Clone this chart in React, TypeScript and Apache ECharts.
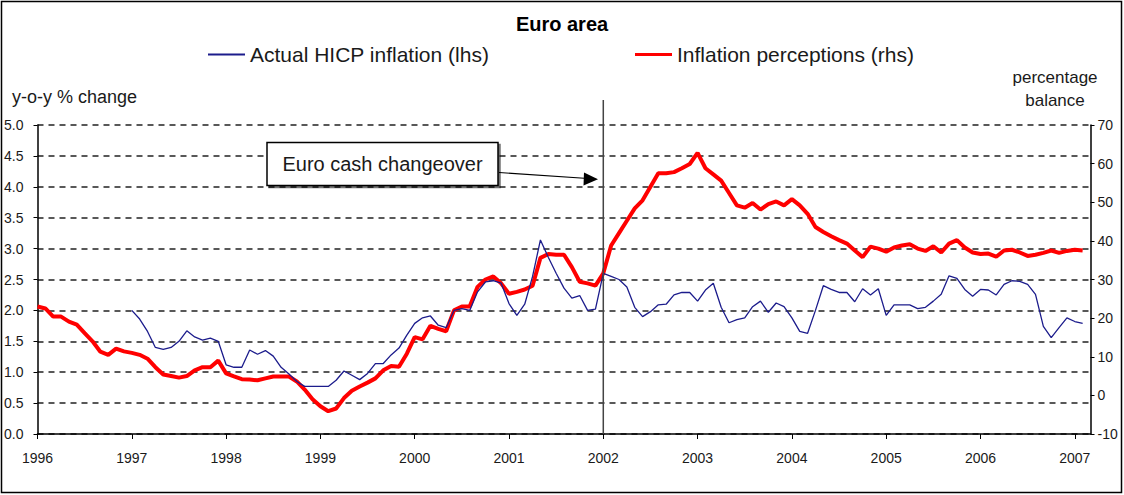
import React, { useEffect, useRef } from "react";
import * as echarts from "echarts";

// Monthly categories Jan 1996 .. Mar 2007 (axis runs a little past the last observation)
const startYear = 1996;
const monthCount = 135;
const months: string[] = [];
for (let i = 0; i < monthCount; i++) {
  const y = startYear + Math.floor(i / 12);
  const m = (i % 12) + 1;
  months.push(`${y}-${m < 10 ? "0" + m : m}`);
}

// Inflation perceptions (percentage balance, rhs), Jan 1996 .. Feb 2007
const perceptions: (number | null)[] = [
  23.0, 22.5, 20.4, 20.4, 19.1, 18.3, 16.1, 14.0, 11.3, 10.5, 12.1, 11.4,
  11.0, 10.5, 9.5, 7.3, 5.4, 5.0, 4.6, 5.0, 6.5, 7.3, 7.3, 9.0,
  5.7, 4.9, 4.2, 4.1, 3.9, 4.4, 4.9, 4.9, 4.9, 3.6, 1.5, -1.0,
  -2.8, -4.1, -3.4, -0.7, 1.2, 2.3, 3.3, 4.4, 6.5, 7.6, 7.4, 10.8,
  15.1, 14.5, 18.0, 17.2, 16.6, 22.0, 23.0, 23.0, 28.1, 30.0, 30.8, 29.0,
  26.3, 26.8, 27.4, 28.4, 35.6, 36.6, 36.4, 36.4, 33.2, 29.4, 29.0, 28.4,
  31.6, 38.8, 42.0, 45.2, 48.4, 50.5, 54.0, 57.5, 57.5, 57.8, 58.8, 59.9,
  62.8, 58.8, 57.2, 55.6, 52.4, 49.2, 48.6, 49.8, 48.1, 49.5, 50.2, 49.2,
  50.8, 49.2, 47.0, 43.6, 42.3, 41.2, 40.2, 39.3, 37.5, 35.8, 38.5, 38.0,
  37.2, 38.3, 38.8, 39.1, 38.0, 37.4, 38.6, 37.0, 39.3, 40.2, 38.3, 37.0,
  36.6, 36.7, 35.9, 37.5, 37.7, 37.0, 36.1, 36.4, 36.9, 37.5, 36.9, 37.4,
  37.7, 37.5, null,
];

// Actual HICP inflation (y-o-y %, lhs), Jan 1996 .. Feb 2007 (no data in 1996)
const hicp: (number | null)[] = [
  null, null, null, null, null, null, null, null, null, null, null, null,
  2.0, 1.86, 1.66, 1.4, 1.37, 1.4, 1.5, 1.67, 1.57, 1.52, 1.55, 1.5,
  1.12, 1.08, 1.08, 1.36, 1.29, 1.35, 1.26, 1.08, 0.97, 0.85, 0.77, 0.77,
  0.77, 0.77, 0.87, 1.02, 0.95, 0.88, 0.98, 1.14, 1.14, 1.28, 1.39, 1.6,
  1.79, 1.88, 1.91, 1.76, 1.72, 2.0, 2.03, 2.0, 2.3, 2.46, 2.48, 2.44,
  2.11, 1.92, 2.1, 2.55, 3.14, 2.86, 2.6, 2.36, 2.2, 2.24, 2.0, 2.02,
  2.6, 2.55, 2.5, 2.38, 2.05, 1.9, 1.98, 2.09, 2.1, 2.25, 2.29, 2.29,
  2.15, 2.33, 2.44, 2.05, 1.8, 1.85, 1.88, 2.06, 2.15, 1.97, 2.12, 2.06,
  1.88, 1.66, 1.63, 2.0, 2.4, 2.34, 2.29, 2.29, 2.14, 2.35, 2.25, 2.35,
  1.92, 2.09, 2.09, 2.09, 2.03, 2.05, 2.15, 2.26, 2.56, 2.52, 2.34, 2.23,
  2.34, 2.33, 2.25, 2.42, 2.48, 2.47, 2.42, 2.26, 1.74, 1.56, 1.72, 1.88,
  1.82, 1.79, null,
];

const hicpName = "Actual HICP inflation (lhs)";
const percName = "Inflation perceptions (rhs)";
const changeoverMonth = "2002-01";

const FONT = "'Liberation Sans', Arial, sans-serif";
const TXT = "#1a1a1a";

export default function App() {
  const ref = useRef<HTMLDivElement>(null);

  useEffect(() => {
    if (!ref.current) return;
    const chart = echarts.init(ref.current, undefined, { renderer: "svg" });
    const yearTick = (i: number) => i % 12 === 0;

    const baseGraphic: any[] = [
      {
        type: "rect",
        shape: { x: 1.5, y: 1.5, width: 1120, height: 491 },
        style: { fill: "none", stroke: "#000", lineWidth: 1.5 },
        silent: true,
      },
      {
        type: "text",
        x: 12,
        y: 97,
        style: { text: "y-o-y % change", fontSize: 18, fontFamily: FONT, fill: TXT, textVerticalAlign: "middle" },
      },
      {
        type: "text",
        x: 1055,
        y: 77,
        style: { text: "percentage", fontSize: 17, fontFamily: FONT, fill: TXT, textAlign: "center", textVerticalAlign: "middle" },
      },
      {
        type: "text",
        x: 1055,
        y: 100,
        style: { text: "balance", fontSize: 17, fontFamily: FONT, fill: TXT, textAlign: "center", textVerticalAlign: "middle" },
      },
      {
        type: "line",
        shape: { x1: 499, y1: 172.5, x2: 588, y2: 178.5 },
        style: { stroke: "#000", lineWidth: 1.2 },
        z: 20,
      },
      {
        type: "polygon",
        shape: { points: [[598, 179.3], [584, 172.5], [583.5, 185.5]] },
        style: { fill: "#000" },
        z: 20,
      },
      {
        type: "rect",
        shape: { x: 267, y: 142.5, width: 231, height: 43 },
        style: {
          fill: "#fff",
          stroke: "#000",
          lineWidth: 1.5,
          shadowColor: "rgba(0,0,0,0.55)",
          shadowOffsetX: 2,
          shadowOffsetY: 2,
          shadowBlur: 0,
        },
        z: 20,
      },
      {
        type: "text",
        x: 382.5,
        y: 164,
        style: {
          text: "Euro cash changeover",
          fontSize: 20,
          fontFamily: FONT,
          fill: TXT,
          textAlign: "center",
          textVerticalAlign: "middle",
        },
        z: 21,
      },
    ];

    chart.setOption({
      animation: false,
      backgroundColor: "#fff",
      title: {
        text: "Euro area",
        left: "center",
        top: 9,
        textStyle: { fontSize: 20, fontWeight: "bold", fontFamily: FONT, color: "#000" },
      },
      legend: [
        {
          data: [hicpName],
          left: 208,
          top: 44,
          padding: 0,
          icon: "rect",
          itemWidth: 37,
          itemHeight: 2,
          itemGap: 5,
          textStyle: { fontSize: 21, fontFamily: FONT, color: TXT },
        },
        {
          data: [percName],
          left: 635,
          top: 44,
          padding: 0,
          icon: "rect",
          itemWidth: 37,
          itemHeight: 3,
          itemGap: 5,
          textStyle: { fontSize: 21, fontFamily: FONT, color: TXT },
        },
      ],
      grid: { left: 37.5, right: 33.5, top: 125, bottom: 61, containLabel: false },
      xAxis: {
        type: "category",
        data: months,
        boundaryGap: false,
        axisLine: { lineStyle: { color: "#000", width: 1.5 } },
        axisTick: { interval: yearTick, length: 5, lineStyle: { color: "#000" } },
        axisLabel: {
          interval: yearTick,
          formatter: (v: string) => v.slice(0, 4),
          margin: 17,
          fontSize: 14,
          fontFamily: FONT,
          color: TXT,
        },
        splitLine: { show: false },
      },
      yAxis: [
        {
          type: "value",
          min: 0,
          max: 5,
          interval: 0.5,
          axisLine: { show: true, lineStyle: { color: "#000", width: 1.5 } },
          axisTick: { show: true, length: 4, lineStyle: { color: "#000" } },
          axisLabel: {
            formatter: (v: number) => v.toFixed(1),
            margin: 14,
            fontSize: 14,
            fontFamily: FONT,
            color: TXT,
          },
          splitLine: { show: true, lineStyle: { color: "#222", width: 1.5, type: [6, 5] } },
        },
        {
          type: "value",
          min: -10,
          max: 70,
          interval: 10,
          position: "right",
          axisLine: { show: true, lineStyle: { color: "#000", width: 1.5 } },
          axisTick: { show: true, length: 4, lineStyle: { color: "#000" } },
          axisLabel: { margin: 7, fontSize: 14, fontFamily: FONT, color: TXT },
          splitLine: { show: false },
        },
      ],
      series: [
        {
          name: percName,
          type: "line",
          yAxisIndex: 1,
          data: perceptions,
          showSymbol: false,
          symbol: "none",
          color: "#ff0000",
          lineStyle: { color: "#ff0000", width: 4 },
          z: 3,
        },
        {
          name: hicpName,
          type: "line",
          yAxisIndex: 0,
          data: hicp,
          showSymbol: false,
          symbol: "none",
          connectNulls: false,
          color: "#1c1c8c",
          lineStyle: { color: "#1c1c8c", width: 1.3 },
          z: 4,
        },
      ],
      graphic: baseGraphic,
    });

    const px = chart.convertToPixel({ xAxisIndex: 0 }, changeoverMonth) as number;
    const py0 = chart.convertToPixel({ yAxisIndex: 0 }, 0) as number;
    chart.setOption({
      graphic: [
        ...baseGraphic,
        {
          type: "line",
          shape: { x1: px, y1: 100, x2: px, y2: py0 },
          style: { stroke: "#444", lineWidth: 1.5 },
          z: 10,
        },
      ],
    });

    return () => chart.dispose();
  }, []);

  return (
    <div
      ref={ref}
      style={{ position: "absolute", left: 0, top: 0, width: 1124, height: 495 }}
    />
  );
}
